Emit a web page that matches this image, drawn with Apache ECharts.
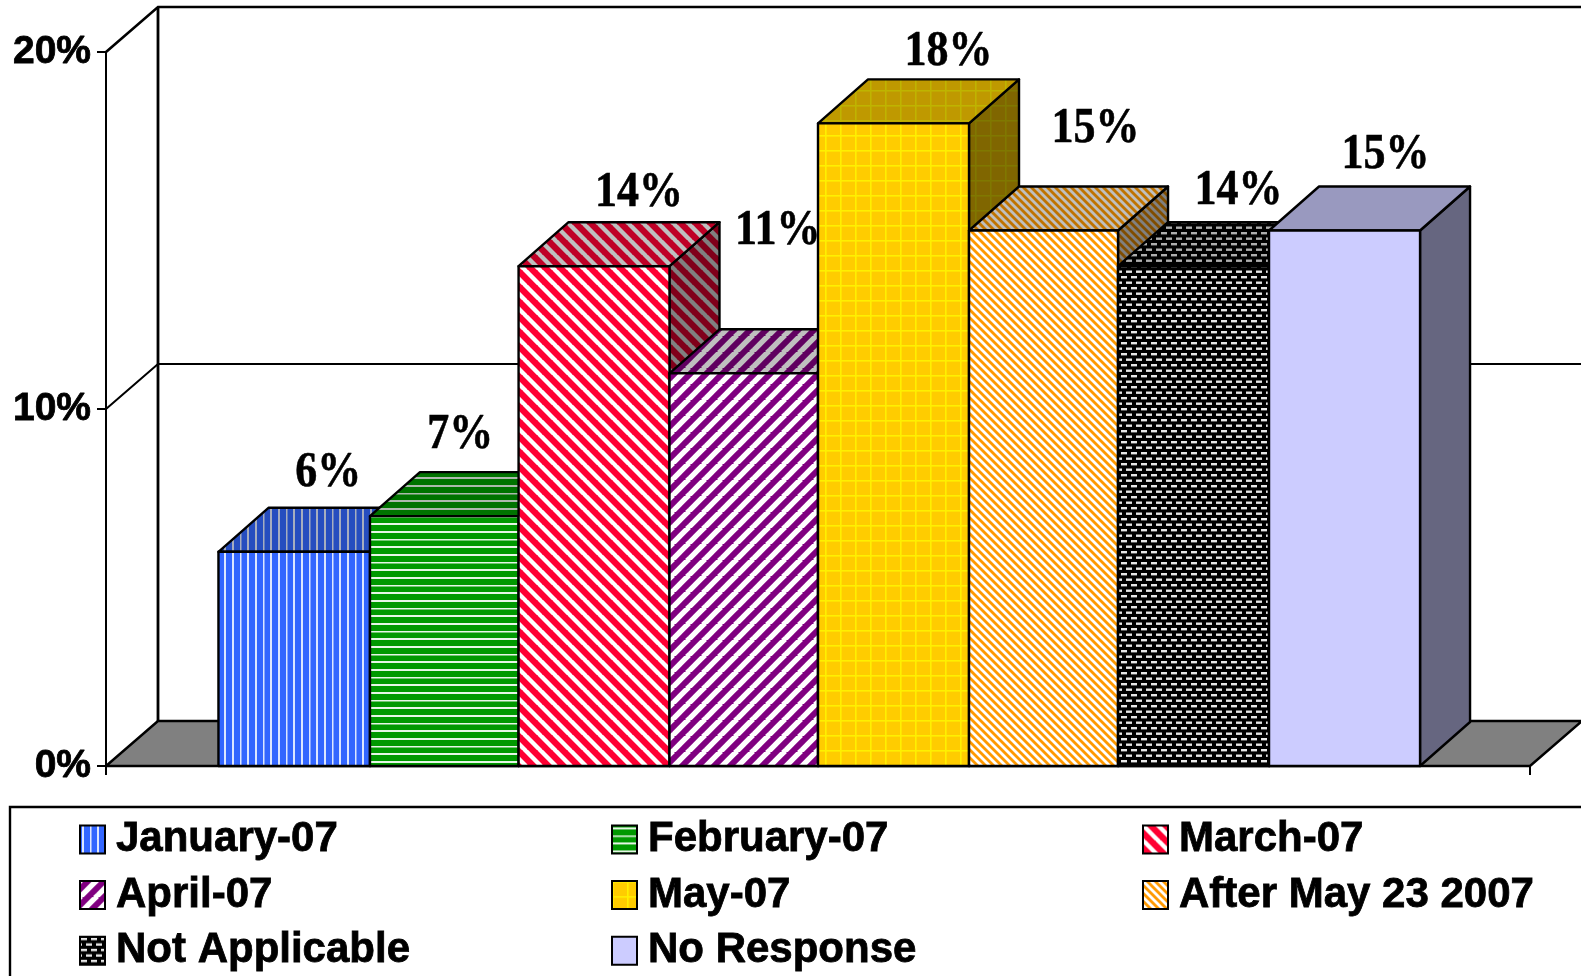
<!DOCTYPE html>
<html>
<head>
<meta charset="utf-8">
<title>Chart</title>
<style>html,body{margin:0;padding:0;background:#fff;overflow:hidden}#c{width:1581px;height:976px}</style>
<script src="https://cdn.jsdelivr.net/npm/echarts@6/dist/echarts.min.js"></script>
</head>
<body>
<div id="c"></div>
<script>
// ---- data ----
const categories = ['2007'];
const seriesNames = ['January-07','February-07','March-07','April-07','May-07','After May 23 2007','Not Applicable','No Response'];
const seriesValues = [6,7,14,11,18,15,14,15];
const yTicks = [0,10,20];
const legendColumns = [
  ['January-07','April-07','Not Applicable'],
  ['February-07','May-07','No Response'],
  ['March-07','After May 23 2007']
];
// ---- layout & style (hand placed labels in the original) ----
const labelOffsets = [[34,-79],[16,-81],[45,-73],[34,-142],[55,-71],[52,-101],[45,-75],[41,-75]];
const edgeNudges = [1.3,2.6,1,1.7,0,0.8,-0.4,0.4,1.2];
const depthX = 52, depthY = 45;
const barDepthX = 50, barDepthY = 44;
const TOP = 0.75, SIDE = 0.5;

function shade(hex, k){
  const n = parseInt(hex.slice(1),16);
  const f = s => Math.round(((n>>s)&255)*k);
  return `rgb(${f(16)},${f(8)},${f(0)})`;
}
function tile(w,h,bg,k,draw){
  const c = document.createElement('canvas'); c.width=w; c.height=h;
  const g = c.getContext('2d');
  g.fillStyle = shade(bg,k); g.fillRect(0,0,w,h);
  draw(g,w,h);
  return {image:c, repeat:'repeat'};
}
function diag(g,p,lw,col,dir){
  g.strokeStyle=col; g.lineWidth=lw;
  for(let i=-1;i<=1;i++){
    g.beginPath();
    if(dir>0){ g.moveTo(i*p-1,p+1); g.lineTo(i*p+p+1,-1); }
    else { g.moveTo(i*p-1,-1); g.lineTo(i*p+p+1,p+1); }
    g.stroke();
  }
}
const painters = [
  k=>tile(23,8,'#3366FF',k,(g)=>{g.fillStyle=shade('#DDE6FF',k);g.fillRect(2,0,2,8);g.fillRect(10,0,1.5,8);g.fillRect(17,0,2,8);}),
  k=>tile(8,23,'#009900',k,(g)=>{g.fillStyle=shade('#E6F6E6',k);g.fillRect(0,2,8,2);g.fillRect(0,10,8,1.5);g.fillRect(0,17,8,2);}),
  k=>tile(15,15,'#FF0033',k,(g)=>diag(g,15,4.4,shade('#FFFFFF',k),-1)),
  k=>tile(16,16,'#800080',k,(g)=>diag(g,16,5.4,shade('#FFFFFF',k),1)),
  k=>tile(15,15,'#FFCC00',k,(g)=>{g.fillStyle=shade('#FFF000',k);g.fillRect(0,0,1.6,15);g.fillRect(0,0,15,1.6);}),
  k=>tile(8,8,'#FF9900',k,(g)=>diag(g,8,2.8,shade('#FFFFFF',k),-1)),
  k=>tile(10,11,'#000000',k,(g)=>{g.fillStyle=shade('#E8E8E8',k);g.fillRect(1,1,6,2.4);g.fillRect(6,6.5,4,2.4);g.fillRect(0,6.5,2,2.4);}),
  k=>tile(8,8,'#CCCCFF',k,()=>{})
];
const lineStyle = {stroke:'#000',lineWidth:2.4,lineJoin:'round'};

function renderBar(idx){
  const front = painters[idx](1), top = painters[idx](TOP), side = painters[idx](SIDE);
  return function(params, api){
    const pt = api.coord([0, api.value(1)]);
    const base = api.coord([0, 0]);
    const w = api.size([1,0])[0] / 9.48;
    const x0 = pt[0] + (idx-4)*w + edgeNudges[idx], x1 = pt[0] + (idx-3)*w + edgeNudges[idx+1];
    const yT = pt[1], yB = base[1];
    const off = labelOffsets[idx];
    const dx = barDepthX, dy = barDepthY;
    return {type:'group',children:[
      {type:'polygon',shape:{points:[[x1,yT],[x1+dx,yT-dy],[x1+dx,yB-dy],[x1,yB]]},style:Object.assign({fill:side},lineStyle)},
      {type:'polygon',shape:{points:[[x0,yT],[x0+dx,yT-dy],[x1+dx,yT-dy],[x1,yT]]},style:Object.assign({fill:top},lineStyle)},
      {type:'rect',shape:{x:x0,y:yT,width:x1-x0,height:yB-yT},style:Object.assign({fill:front},lineStyle)},
      {type:'text',x:(x0+x1)/2+off[0],y:yT+off[1],scaleY:1.13,z2:20,style:{text:api.value(1)+'%',fill:'#000',stroke:'#000',lineWidth:0.5,align:'center',verticalAlign:'middle',font:'bold 44px "Liberation Serif"'}}
    ]};
  };
}
function renderFrame(params, api){
  const band = api.size([1,0])[0];
  const cx = api.coord([0,0])[0];
  const xL = cx-band/2, xR = cx+band/2;
  const y0 = api.coord([0,0])[1];
  const kids = [{type:'polygon',shape:{points:[[xL,y0],[xL+depthX,y0-depthY],[xR+depthX,y0-depthY],[xR,y0]]},style:Object.assign({fill:'#808080'},lineStyle)}];
  const yMax = api.coord([0,yTicks[yTicks.length-1]])[1];
  kids.push({type:'line',shape:{x1:xL+depthX,y1:y0-depthY,x2:xL+depthX,y2:yMax-depthY},style:{stroke:'#000',lineWidth:2.8}});
  yTicks.slice(1).forEach(t=>{
    const y = api.coord([0,t])[1];
    kids.push({type:'polyline',shape:{points:[[xL,y],[xL+depthX,y-depthY],[xR+depthX,y-depthY]]},style:{stroke:'#000',lineWidth:t===20?2.6:2,fill:null}});
  });
  return {type:'group',children:kids};
}

const series = [{name:'walls',type:'custom',silent:true,renderItem:renderFrame,data:[[0,0]],encode:{x:0,y:1},z:1}];
seriesNames.forEach((name,i)=>{
  series.push({
    name,type:'custom',renderItem:renderBar(i),silent:true,z:2,
    itemStyle:{color:painters[i](1),borderColor:'#000',borderWidth:2.4},
    encode:{x:0,y:1},data:[[0,seriesValues[i]]]
  });
});
const legendLefts = [79,611,1142];
const legends = legendColumns.map((names,i)=>({
  data:names.map(n=>({name:n,icon:'rect'})),orient:'vertical',left:legendLefts[i],top:818,height:158,padding:0,
  itemWidth:25,itemHeight:28,itemGap:12.9,selectedMode:false,
  textStyle:{fontFamily:'Liberation Sans',fontWeight:'bold',fontSize:42,color:'#000',padding:[4,0,0,6],textBorderColor:'#000',textBorderWidth:0.8}
}));

const chart = echarts.init(document.getElementById('c'));
chart.setOption({
  animation:false,backgroundColor:'#fff',
  graphic:[{type:'rect',shape:{x:10,y:807,width:1700,height:300},style:{fill:'none',stroke:'#000',lineWidth:2.4},z:-1,silent:true}],
  legend:legends,
  grid:{left:106,top:52,width:1424,height:714,containLabel:false},
  xAxis:{type:'category',data:categories,axisLabel:{show:false},axisLine:{lineStyle:{color:'#000',width:2}},axisTick:{show:true,length:9,lineStyle:{color:'#000',width:2}},splitLine:{show:false}},
  yAxis:{type:'value',min:0,max:20,interval:10,splitLine:{show:false},
    axisLine:{show:true,lineStyle:{color:'#000',width:2}},axisTick:{show:true,length:9,lineStyle:{color:'#000',width:2}},
    axisLabel:{formatter:'{value}%',margin:15,fontFamily:'Liberation Sans',fontWeight:'bold',fontSize:39,color:'#000',padding:[16,0,0,0],textBorderColor:'#000',textBorderWidth:0.8}},
  series
});
</script>
</body>
</html>
